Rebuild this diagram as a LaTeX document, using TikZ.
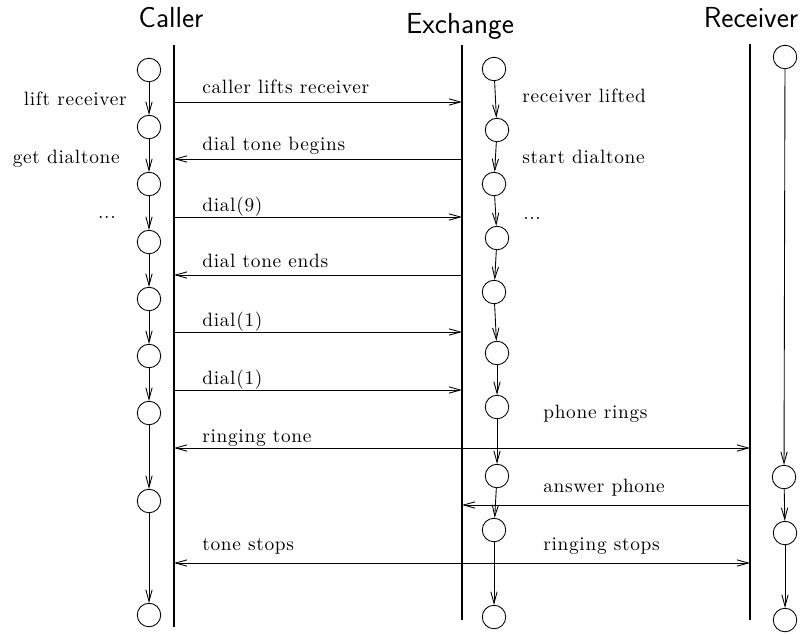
\documentclass[tikz,border=0pt]{standalone}
\usepackage{fontspec}
\usetikzlibrary{arrows.meta}
\newfontfamily\lblfont[LetterSpace=3.6]{lmroman10-regular.otf}

\begin{document}
\begin{tikzpicture}[x=0.02cm, y=-0.02cm,
  state/.style={circle, draw, line width=0.5pt, minimum size=0.47cm, inner sep=0pt},
  flow/.style={-{Straight Barb[length=6.5pt, width=3.6pt]}, line width=0.5pt},
  msg/.style={-{Straight Barb[length=6.5pt, width=3.6pt]}, line width=0.5pt},
  both/.style={{Straight Barb[length=6.5pt, width=3.6pt]}-{Straight Barb[length=6.5pt, width=3.6pt]}, line width=0.5pt},
  lifeline/.style={line width=1pt},
  head/.style={font=\sffamily\fontsize{16.5}{19}\selectfont, anchor=base, inner sep=0pt},
  lbl/.style={font=\lblfont\fontsize{11}{13}\selectfont, inner sep=0pt}]

  \useasboundingbox (0,0) rectangle (805,633);

  % Headers
  \node[head] (caller) at (171,27) {Caller};
  \node[head] (exchange) at (460,33) {Exchange};
  \node[head] (receiver) at (751,27) {Receiver};

  % Lifelines
  \coordinate (callerTop) at (174,45);   \coordinate (callerBot) at (174,627);
  \coordinate (exchTop) at (462,45);     \coordinate (exchBot) at (462,620);
  \coordinate (recvTop) at (750,44);     \coordinate (recvBot) at (750,620);
  \draw[lifeline] (callerTop) -- (callerBot);
  \draw[lifeline] (exchTop) -- (exchBot);
  \draw[lifeline] (recvTop) -- (recvBot);

  % Caller states
  \node[state] (cs1) at (149,70) {};
  \node[state] (cs2) at (149,127) {};
  \node[state] (cs3) at (149,184) {};
  \node[state] (cs4) at (149,242) {};
  \node[state] (cs5) at (149,299) {};
  \node[state] (cs6) at (149,356) {};
  \node[state] (cs7) at (149,413) {};
  \node[state] (cs8) at (149,501) {};
  \node[state] (cs9) at (149,615) {};
  \path (cs1) edge[flow] (cs2) (cs2) edge[flow] (cs3) (cs3) edge[flow] (cs4)
        (cs4) edge[flow] (cs5) (cs5) edge[flow] (cs6) (cs6) edge[flow] (cs7)
        (cs7) edge[flow] (cs8) (cs8) edge[flow] (cs9);

  % Exchange states
  \node[state] (es1) at (494,69) {};
  \node[state] (es2) at (497,130) {};
  \node[state] (es3) at (494,184) {};
  \node[state] (es4) at (497,238) {};
  \node[state] (es5) at (494,292) {};
  \node[state] (es6) at (497,353) {};
  \node[state] (es7) at (497,407) {};
  \node[state] (es8) at (497,476) {};
  \node[state] (es9) at (494,530) {};
  \node[state] (es10) at (494,617) {};
  \path (es1) edge[flow] (es2) (es2) edge[flow] (es3) (es3) edge[flow] (es4)
        (es4) edge[flow] (es5) (es5) edge[flow] (es6) (es6) edge[flow] (es7)
        (es7) edge[flow] (es8) (es8) edge[flow] (es9) (es9) edge[flow] (es10);

  % Receiver states
  \node[state] (rs1) at (785,57) {};
  \node[state] (rs2) at (784,477) {};
  \node[state] (rs3) at (785,533) {};
  \node[state] (rs4) at (785,620) {};
  \path (rs1) edge[flow] (rs2) (rs2) edge[flow] (rs3) (rs3) edge[flow] (rs4);

  % Message ends on the lifelines
  \coordinate (c1) at (174,102); \coordinate (x1) at (462,102);
  \coordinate (c2) at (174,159); \coordinate (x2) at (462,159);
  \coordinate (c3) at (174,217); \coordinate (x3) at (462,217);
  \coordinate (c4) at (174,275); \coordinate (x4) at (462,275);
  \coordinate (c5) at (174,332); \coordinate (x5) at (462,332);
  \coordinate (c6) at (174,390); \coordinate (x6) at (462,390);
  \coordinate (c7) at (174,448); \coordinate (r7) at (750,448);
  \coordinate (x8) at (462,505); \coordinate (r8) at (750,505);
  \coordinate (c9) at (174,563); \coordinate (r9) at (750,563);

  % Messages
  \draw[msg] (c1) -- (x1);
  \draw[msg] (x2) -- (c2);
  \draw[msg] (c3) -- (x3);
  \draw[msg] (x4) -- (c4);
  \draw[msg] (c5) -- (x5);
  \draw[msg] (c6) -- (x6);
  \draw[both] (c7) -- (r7);
  \draw[msg] (r8) -- (x8);
  \draw[both] (c9) -- (r9);

  % Message labels
  \node[lbl, anchor=base west] (m1) at (202,93) {caller lifts receiver};
  \node[lbl, anchor=base west] (m2) at (202,150) {dial tone begins};
  \node[lbl, anchor=base west] (m3) at (202,211) {dial(9)};
  \node[lbl, anchor=base west] (m4) at (202,267) {dial tone ends};
  \node[lbl, anchor=base west] (m5) at (202,326) {dial(1)};
  \node[lbl, anchor=base west] (m6) at (202,384) {dial(1)};
  \node[lbl, anchor=base west] (m7) at (202,442) {ringing tone};
  \node[lbl, anchor=base west] (m8) at (543,492) {answer phone};
  \node[lbl, anchor=base west] (m9a) at (202,550) {tone stops};
  \node[lbl, anchor=base west] (m9b) at (543,550) {ringing stops};

  % State labels
  \node[lbl, anchor=base east] (liftRecv) at (127,105) {lift receiver};
  \node[lbl, anchor=base east] (getTone) at (120,163) {get dialtone};
  \node[lbl, anchor=base east] (callerMore) at (116,218) {...};
  \node[lbl, anchor=base west] (recvLifted) at (522,102) {receiver lifted};
  \node[lbl, anchor=base west] (startTone) at (522,163) {start dialtone};
  \node[lbl, anchor=base west] (exchMore) at (523,219) {...};
  \node[lbl, anchor=base west] (phoneRings) at (543,418) {phone rings};
\end{tikzpicture}
\end{document}
